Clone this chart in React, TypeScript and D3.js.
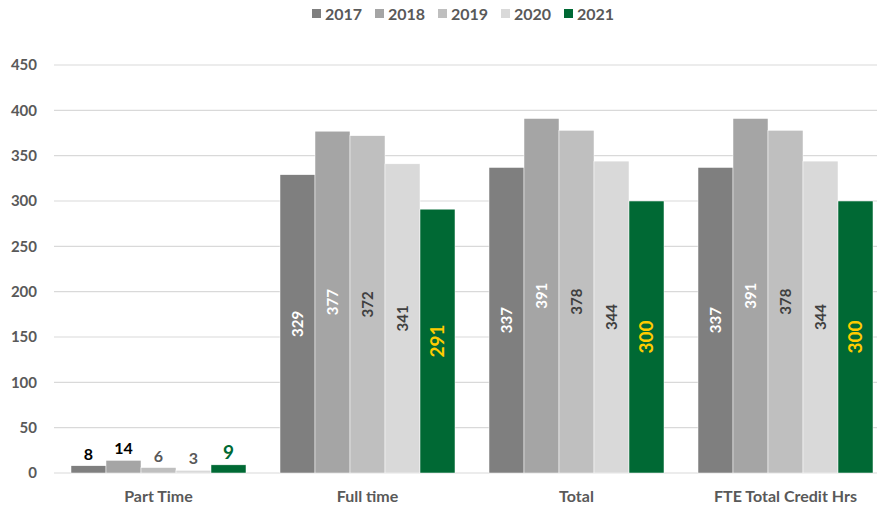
import { scaleBand, scaleLinear } from 'd3'

const CATEGORIES = ['Part Time', 'Full time', 'Total', 'FTE Total Credit Hrs']
const YEARS = ['2017', '2018', '2019', '2020', '2021']
const VALUES: number[][] = [
  [8, 329, 337, 337],
  [14, 377, 391, 391],
  [6, 372, 378, 378],
  [3, 341, 344, 344],
  [9, 291, 300, 300],
]
const Y_TICKS = [0, 50, 100, 150, 200, 250, 300, 350, 400, 450]

const COLORS = ['#7f7f7f', '#a5a5a5', '#bfbfbf', '#d9d9d9', '#006934']
const INSIDE_TEXT = ['#ffffff', '#ffffff', '#404040', '#404040', '#ffcc00']
const OUTSIDE_TEXT = ['#000000', '#000000', '#595959', '#595959', '#006934']

const W = 877
const H = 506
const FONT = 'Lato, "Open Sans", sans-serif'

export default function App() {
  const x0 = scaleBand<string>().domain(CATEGORIES).range([54, 890])
  const x1 = scaleBand<string>().domain(YEARS).range([17, 209 - 17])
  const y = scaleLinear().domain([0, 450]).range([473, 65])

  return (
    <svg width={W} height={H} style={{ position: 'absolute', left: 0, top: 0 }} fontFamily={FONT}>
      <rect width={W} height={H} fill="#fff" />

      {Y_TICKS.map((t) => (
        <g key={t}>
          <line x1={54} x2={W} y1={y(t)} y2={y(t)} stroke="#d9d9d9" strokeWidth={1.2} />
          <text x={37} y={y(t)} dy="0.35em" textAnchor="end" fontSize={15} fontWeight={700} fill="#595959">
            {t}
          </text>
        </g>
      ))}

      {CATEGORIES.map((c, ci) => (
        <g key={c} transform={`translate(${x0(c)},0)`}>
          {YEARS.map((yr, yi) => {
            const v = VALUES[yi][ci]
            const bx = x1(yr)!
            const bw = x1.bandwidth()
            const top = y(v)
            const cx = bx + bw / 2
            const big = yi === 4
            return (
              <g key={yr}>
                <rect x={bx} y={top} width={bw} height={y(0) - top} fill={COLORS[yi]} stroke="#fff" strokeWidth={0.5} />
                {v < 50 ? (
                  <text
                    x={cx}
                    y={top - 6}
                    textAnchor="middle"
                    fontSize={big ? 19 : 16}
                    fontWeight={700}
                    fill={OUTSIDE_TEXT[yi]}
                  >
                    {v}
                  </text>
                ) : (
                  <text
                    transform={`translate(${cx},${(top + y(0)) / 2}) rotate(-90)`}
                    textAnchor="middle"
                    dy="0.35em"
                    fontSize={big ? 19 : 15}
                    fontWeight={700}
                    fill={INSIDE_TEXT[yi]}
                  >
                    {v}
                  </text>
                )}
              </g>
            )
          })}
          <text x={x0.bandwidth() / 2} y={496} dy="0.35em" textAnchor="middle" fontSize={16} fontWeight={700} fill="#595959">
            {c}
          </text>
        </g>
      ))}

      {YEARS.map((yr, i) => {
        const lx = 312 + i * 63
        return (
          <g key={yr}>
            <rect x={lx} y={9} width={9} height={9} fill={COLORS[i]} />
            <text x={lx + 13} y={14} dy="0.35em" fontSize={16} fontWeight={700} fill="#595959">
              {yr}
            </text>
          </g>
        )
      })}
    </svg>
  )
}
